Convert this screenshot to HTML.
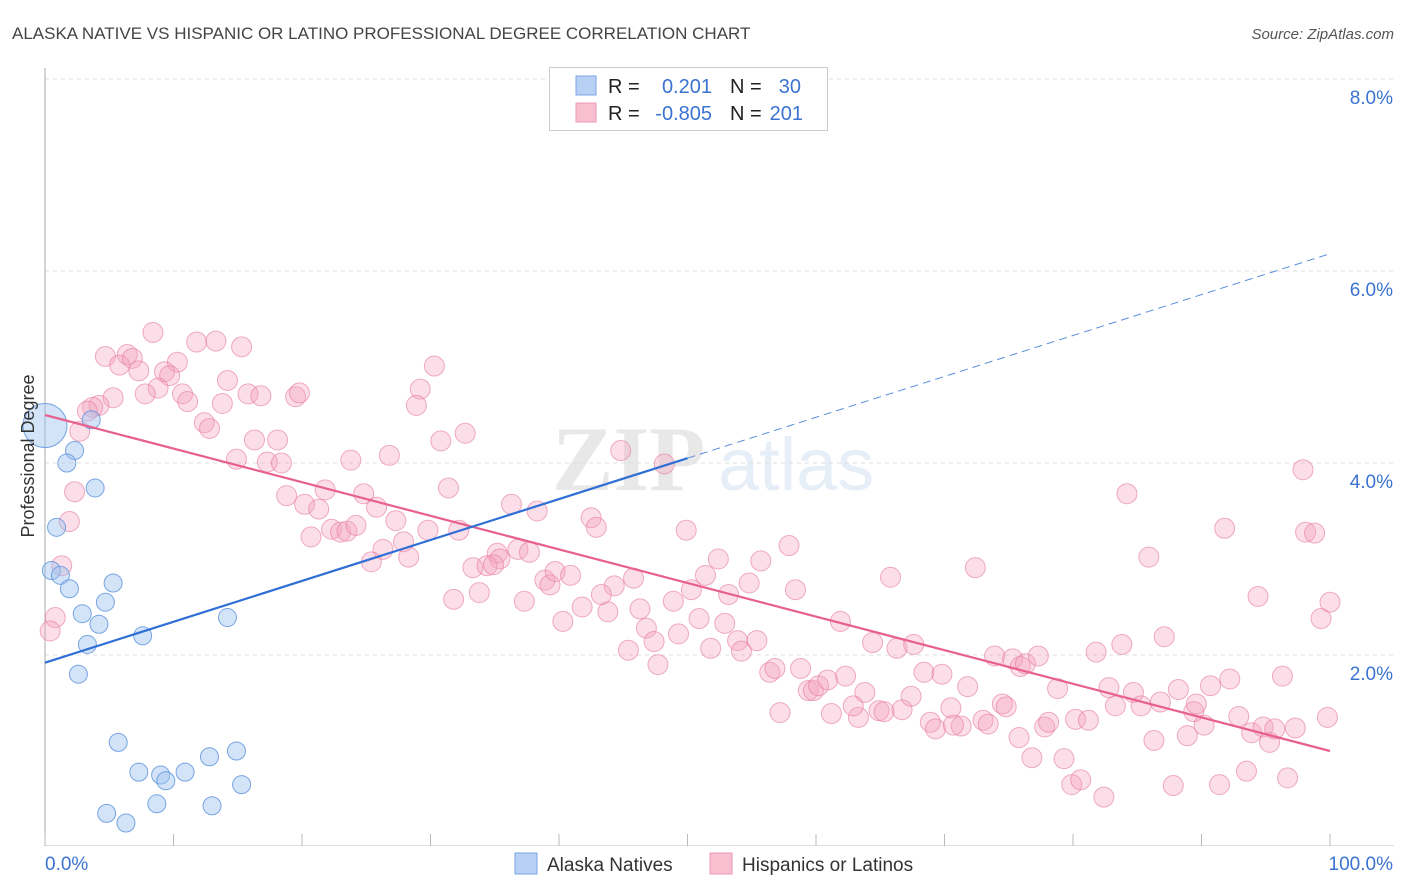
<!DOCTYPE html>
<html><head><meta charset="utf-8"><style>
body{margin:0;background:#fff;font-family:"Liberation Sans",sans-serif;}
svg{display:block}
</style></head><body>
<svg id="chart" width="1406" height="892" viewBox="0 0 1406 892" xmlns="http://www.w3.org/2000/svg">
<text x="12" y="39" font-size="17" fill="#444">ALASKA NATIVE VS HISPANIC OR LATINO PROFESSIONAL DEGREE CORRELATION CHART</text>
<text x="1394" y="39" font-size="15" fill="#555" text-anchor="end" font-style="italic">Source: ZipAtlas.com</text>
<g opacity="0.13">
<text x="552" y="490" font-size="92" font-family="Liberation Serif,serif" fill="#555" font-weight="bold">ZIP</text>
<text x="718" y="490" font-size="74" fill="#4a7fd0">atlas</text>
</g>
<g id="grid"></g>
<g id="axes"></g>
<g id="pink"></g>
<g id="blue"></g>
<g id="lines"></g>
<text transform="translate(34,456) rotate(-90)" font-size="18" fill="#333" text-anchor="middle">Professional Degree</text>
<g>
<rect x="549.5" y="67.5" width="278" height="63" fill="#fff" stroke="#ccc"/>
<rect x="576" y="76" width="20" height="19" fill="#b8d0f4" stroke="#7aa6e6"/>
<rect x="576" y="103" width="20" height="19" fill="#f8bfd0" stroke="#eb98b4"/>
<text x="608" y="93" font-size="20" fill="#222">R =</text>
<text x="712" y="93" font-size="20" fill="#3b73d1" text-anchor="end">0.201</text>
<text x="730" y="93" font-size="20" fill="#222">N =</text>
<text x="801" y="93" font-size="20" fill="#3b73d1" text-anchor="end">30</text>
<text x="608" y="120" font-size="20" fill="#222">R =</text>
<text x="712" y="120" font-size="20" fill="#3b73d1" text-anchor="end">-0.805</text>
<text x="730" y="120" font-size="20" fill="#222">N =</text>
<text x="803" y="120" font-size="20" fill="#3b73d1" text-anchor="end">201</text>
</g>
<g>
<rect x="515" y="853" width="22" height="21" fill="#b8d0f4" stroke="#7aa6e6"/>
<text x="547" y="871" font-size="19" fill="#333">Alaska Natives</text>
<rect x="710" y="853" width="22" height="21" fill="#f8bfd0" stroke="#eb98b4"/>
<text x="742" y="871" font-size="19" fill="#333">Hispanics or Latinos</text>
</g>
</svg>
<script>
const yTicks=[2,4,6,8];
const yTickLabels=["2.0%","4.0%","6.0%","8.0%"];
const xTickLabels=["0.0%","100.0%"];
const blueX=[0,3.6,2.3,1.7,3.9,0.9,0.5,1.2,1.9,5.3,2.9,4.7,4.2,3.3,7.6,14.2,2.6,5.7,14.9,12.8,7.3,10.9,9.0,9.4,15.3,4.8,8.7,13.0,6.3,41.4];
const blueY=[4.39,4.45,4.13,4.0,3.74,3.33,2.88,2.83,2.69,2.75,2.43,2.55,2.32,2.11,2.2,2.39,1.8,1.09,1.0,0.94,0.78,0.78,0.75,0.69,0.65,0.35,0.45,0.43,0.25,7.68];
const pinkX=[8.4,4.7,6.4,5.8,6.8,10.3,11.8,13.3,15.3,7.3,9.3,9.7,8.8,7.8,5.3,4.2,3.7,3.3,2.7,10.7,11.1,13.8,14.2,15.8,16.8,19.5,19.8,12.4,12.8,16.3,18.1,14.9,17.3,18.4,2.3,1.9,1.3,0.8,0.4,30.3,29.2,28.9,26.8,23.8,30.8,32.7,31.4,18.8,21.8,20.2,21.3,24.8,25.8,27.3,20.7,22.3,23.0,23.5,24.2,29.8,32.2,27.9,26.3,25.4,28.3,36.3,38.3,42.5,42.9,44.8,48.2,49.9,35.2,35.4,36.8,37.7,33.3,34.4,34.9,38.9,39.3,39.7,40.9,44.3,45.8,31.8,33.8,37.3,41.8,40.3,43.8,46.3,48.9,43.3,46.8,47.4,45.4,49.3,47.7,50.3,51.4,52.4,54.8,55.7,57.9,58.4,53.2,50.9,52.9,53.9,55.4,54.2,51.8,56.4,56.8,58.8,57.2,59.4,59.8,60.2,60.9,62.3,61.9,61.2,63.3,63.8,62.9,64.9,65.3,66.7,67.4,65.8,64.4,66.3,67.6,68.4,69.8,68.9,69.3,70.5,71.3,70.7,71.8,72.4,73.0,73.4,73.9,74.5,74.8,75.3,75.9,76.3,77.3,75.8,76.8,77.8,78.1,78.8,80.2,79.3,79.9,80.6,81.2,81.8,82.8,83.3,83.8,84.2,82.4,84.7,85.3,85.9,86.3,86.8,87.1,88.2,88.9,89.4,89.6,87.8,90.2,90.7,91.8,92.2,91.4,92.9,93.5,93.9,94.4,94.8,95.3,95.7,96.3,96.7,97.3,97.9,98.1,98.8,99.3,100,99.8];
const pinkY=[5.36,5.11,5.13,5.02,5.09,5.05,5.26,5.27,5.21,4.96,4.95,4.91,4.78,4.72,4.68,4.6,4.58,4.54,4.33,4.72,4.64,4.62,4.86,4.72,4.7,4.69,4.73,4.42,4.36,4.24,4.24,4.04,4.01,4.0,3.7,3.39,2.93,2.39,2.25,5.01,4.77,4.6,4.08,4.03,4.23,4.31,3.74,3.66,3.72,3.57,3.52,3.68,3.54,3.4,3.23,3.31,3.28,3.29,3.35,3.3,3.3,3.18,3.1,2.97,3.02,3.57,3.5,3.43,3.33,4.13,3.99,3.3,3.06,3.0,3.1,3.07,2.91,2.93,2.94,2.78,2.73,2.87,2.83,2.72,2.8,2.58,2.65,2.56,2.5,2.35,2.45,2.48,2.56,2.63,2.28,2.14,2.05,2.22,1.9,2.68,2.83,3.0,2.75,2.98,3.14,2.68,2.63,2.38,2.33,2.15,2.15,2.04,2.07,1.82,1.86,1.86,1.4,1.63,1.63,1.68,1.74,1.78,2.35,1.39,1.35,1.61,1.47,1.42,1.41,1.43,1.57,2.81,2.13,2.07,2.11,1.82,1.8,1.3,1.23,1.45,1.26,1.27,1.67,2.91,1.32,1.28,1.99,1.49,1.46,1.96,1.88,1.91,1.99,1.14,0.93,1.25,1.3,1.65,1.33,0.92,0.65,0.7,1.32,2.03,1.66,1.47,2.11,3.68,0.52,1.61,1.47,3.02,1.11,1.51,2.19,1.64,1.16,1.41,1.49,0.64,1.27,1.68,3.32,1.75,0.65,1.36,0.79,1.19,2.61,1.25,1.09,1.23,1.78,0.72,1.24,3.93,3.28,3.27,2.38,2.55,1.35];
const pinkTrend=[4.5,1.0];
const blueTrend=[1.92,6.18];
const NS="http://www.w3.org/2000/svg";
const X=v=>45+v*12.85, Y=v=>847-v*96;
function mk(t,p,a){const e=document.createElementNS(NS,t);for(const k in a)e.setAttribute(k,a[k]);p.appendChild(e);return e;}
const grid=document.getElementById('grid'),axes=document.getElementById('axes');
yTicks.forEach((t,i)=>{
 const l=mk('line',grid,{x1:45,x2:1394,y1:Y(t),y2:Y(t),stroke:'#ddd','stroke-dasharray':'4,4'});
 
 
 const tx=mk('text',axes,{x:1393,y:Y(t)+25,'font-size':19,fill:'#3b73d1','text-anchor':'end'});
 tx.textContent=yTickLabels[i];
 
 
});
mk('line',axes,{x1:45,x2:45,y1:68,y2:846,stroke:'#aaa'});
mk('line',axes,{x1:45,x2:1394,y1:845.5,y2:845.5,stroke:'#ddd'});
for(let i=0;i<=10;i++){const t=mk('line',axes,{x1:X(i*10),x2:X(i*10),y1:834,y2:846,stroke:'#bbb'});}
const xl0=mk('text',axes,{x:45,y:870,'font-size':19,fill:'#3b73d1'});xl0.textContent=xTickLabels[0];


const xl1=mk('text',axes,{x:1393,y:870,'font-size':19,fill:'#3b73d1','text-anchor':'end'});xl1.textContent=xTickLabels[1];


const pg=document.getElementById('pink');
pinkX.forEach((x,i)=>{const c=mk('circle',pg,{cx:X(x),cy:Y(pinkY[i]),r:10,fill:'rgba(243,160,188,0.35)',stroke:'rgba(230,120,158,0.6)','stroke-width':1});
 
 });
const bg=document.getElementById('blue');
blueX.forEach((x,i)=>{const c=mk('circle',bg,{cx:X(x),cy:Y(blueY[i]),r:i==0?22:9,fill:'rgba(160,195,240,0.45)',stroke:'rgba(90,145,220,0.8)','stroke-width':1});
 
 });
const lg=document.getElementById('lines');
const pl=mk('line',lg,{x1:X(0),y1:Y(pinkTrend[0]),x2:X(100),y2:Y(pinkTrend[1]),stroke:'#e8608e','stroke-width':2.2});


const bm=blueTrend[0]+(blueTrend[1]-blueTrend[0])*0.5;
const bl=mk('line',lg,{x1:X(0),y1:Y(blueTrend[0]),x2:X(50),y2:Y(bm),stroke:'#2f6fd6','stroke-width':2.2});


const bd=mk('line',lg,{x1:X(50),y1:Y(bm),x2:X(100),y2:Y(blueTrend[1]),stroke:'#5a8fdc','stroke-width':1,'stroke-dasharray':'8,5'});


</script>
</body></html>
